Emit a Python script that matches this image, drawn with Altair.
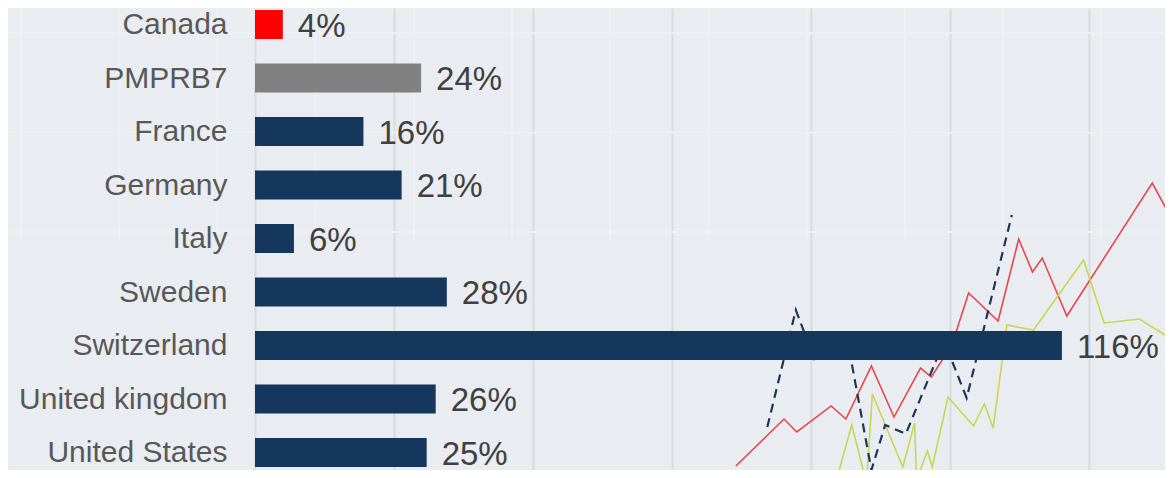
import json
import altair as alt
import pandas as pd

# ---- bar chart data ----
countries = ["Canada", "PMPRB7", "France", "Germany", "Italy", "Sweden",
             "Switzerland", "United kingdom", "United States"]
values = [4.0, 23.9, 15.6, 21.1, 5.6, 27.6, 116.1, 26.0, 24.7]
labels = ["4%", "24%", "16%", "21%", "6%", "28%", "116%", "26%", "25%"]
bar_colors = ["#ff0000", "#808080", "#15375e", "#15375e", "#15375e",
              "#15375e", "#15375e", "#15375e", "#15375e"]

# ---- faded background line chart data ----
red_x = [2007.28, 2007.77, 2007.90, 2008.25, 2008.40, 2008.66, 2008.89, 2009.16,
         2009.27, 2009.48, 2009.65, 2009.95, 2010.16, 2010.30, 2010.40, 2010.65,
         2011.52, 2011.73]
red_y = [52.96, 62.41, 59.80, 65.03, 62.41, 73.07, 62.81, 72.66, 70.85, 77.29,
         87.74, 82.11, 98.59, 91.96, 94.77, 83.12, 109.85, 102.21]

green_x = [2008.29, 2008.46, 2008.61, 2008.67, 2008.98, 2009.10, 2009.12, 2009.23,
           2009.28, 2009.44, 2009.70, 2009.81, 2009.90, 2010.04, 2010.31, 2010.82,
           2011.03, 2011.39, 2011.73]
green_y = [49.15, 61.21, 49.55, 67.44, 52.76, 61.61, 50.15, 55.98, 52.76, 66.83,
           61.00, 65.43, 60.60, 81.31, 80.30, 94.37, 81.71, 82.51, 78.29]

navy_x = [2007.60, 2007.89, 2008.08, 2008.41, 2008.66, 2008.80, 2009.01, 2009.40,
          2009.63, 2010.09]
navy_y = [60.80, 84.32, 74.47, 78.89, 52.16, 61.21, 59.40, 78.09, 66.63, 103.42]

bg_grid_years = list(range(2000, 2012))
bg_grid_values = [100, 120, 140]
bar_grid_values = [0, 20, 40, 60, 80, 100, 120]

# ---- layout constants ----
LEFT = 247          # room for the category labels
W = 910             # plot width  (page x 255 .. 1165)
H = 462             # plot height (page y 8 .. 470)
PX_PER_PCT = 6.95
STEP = 53.5
Y0 = -16.5 / STEP
BG_PX_PER_YEAR = 98.2
BG_PX_PER_UNIT = 4.975
BG_X0 = 2000 + (255 - 21) / BG_PX_PER_YEAR
BG_Y1 = 100 + (232 - 8) / BG_PX_PER_UNIT

bars_df = pd.DataFrame({"country": countries, "value": values, "label": labels,
                        "color": bar_colors, "idx": list(range(len(countries)))})

red_df = pd.DataFrame({"t": red_x, "v": red_y})
green_df = pd.DataFrame({"t": green_x, "v": green_y})
navy_df = pd.DataFrame({"t": navy_x, "v": navy_y})
vgrid_df = pd.DataFrame({"t": bg_grid_years})
hgrid_df = pd.DataFrame({"v": bg_grid_values})

bgx = alt.Scale(domain=[BG_X0, BG_X0 + W / BG_PX_PER_YEAR], nice=False, zero=False)
bgy = alt.Scale(domain=[BG_Y1 - H / BG_PX_PER_UNIT, BG_Y1], nice=False, zero=False)

vgrid = alt.Chart(vgrid_df).mark_rule(color="#eef1f4", strokeWidth=2).encode(
    x=alt.X("t:Q", scale=bgx, axis=None),
    y=alt.value(0), y2=alt.value(232))
hgrid = alt.Chart(hgrid_df).mark_rule(color="#eef1f4", strokeWidth=2).encode(
    y=alt.Y("v:Q", scale=bgy, axis=None),
    x=alt.value(-LEFT), x2=alt.value(W))

red = alt.Chart(red_df).mark_line(color="#e6474f", strokeWidth=1.6).encode(
    x=alt.X("t:Q", scale=bgx, axis=None), y=alt.Y("v:Q", scale=bgy, axis=None))
green = alt.Chart(green_df).mark_line(color="#c9d651", strokeWidth=1.6).encode(
    x=alt.X("t:Q", scale=bgx, axis=None), y=alt.Y("v:Q", scale=bgy, axis=None))
navy = alt.Chart(navy_df).mark_line(color="#1d3658", strokeWidth=2.2,
                                    strokeDash=[9, 6]).encode(
    x=alt.X("t:Q", scale=bgx, axis=None), y=alt.Y("v:Q", scale=bgy, axis=None))

bg = alt.layer(vgrid, hgrid, red, green, navy)

label_expr = "%s[datum.value]" % json.dumps(countries)

xs = alt.Scale(domain=[0, W / PX_PER_PCT], nice=False, zero=False, padding=0)
ys = alt.Scale(domain=[Y0, Y0 + H / STEP], nice=False, zero=False, reverse=True,
               padding=0)

bars = alt.Chart(bars_df).mark_bar(orient="horizontal", size=29).encode(
    x=alt.X("value:Q", scale=xs,
            axis=alt.Axis(orient="bottom", values=bar_grid_values, grid=True,
                          labels=False, ticks=False, domain=False, title=None,
                          gridColor="#d8dbde", gridWidth=2)),
    x2=alt.datum(0),
    y=alt.Y("idx:Q", scale=ys,
            axis=alt.Axis(orient="left", values=list(range(len(countries))),
                          labelExpr=label_expr, grid=False, ticks=False, tickSize=0,
                          domain=False, title=None, labelPadding=28, labelLimit=400,
                          labelFont="Liberation Sans", labelFontSize=30,
                          labelColor="#585858", labelBaseline="middle", zindex=2)),
    color=alt.Color("color:N", scale=None),
)
texts = alt.Chart(bars_df).mark_text(align="left", baseline="middle", dx=15, dy=2,
                                     font="Liberation Sans", fontSize=33,
                                     color="#404040").encode(
    x=alt.X("value:Q", scale=xs), y=alt.Y("idx:Q", scale=ys), text="label:N")

fg = alt.layer(bars, texts)

chart = alt.layer(bg, fg).resolve_scale(x="independent", y="independent").properties(
    width=W, height=H, background="#e9edf1",
    autosize=alt.AutoSizeParams(type="none"),
    padding={"left": LEFT, "top": 0, "right": 0, "bottom": 0},
).configure_view(stroke=None, fill="#e9edf1")

chart.save("out.html", embed_options={"renderer": "svg", "actions": False})
